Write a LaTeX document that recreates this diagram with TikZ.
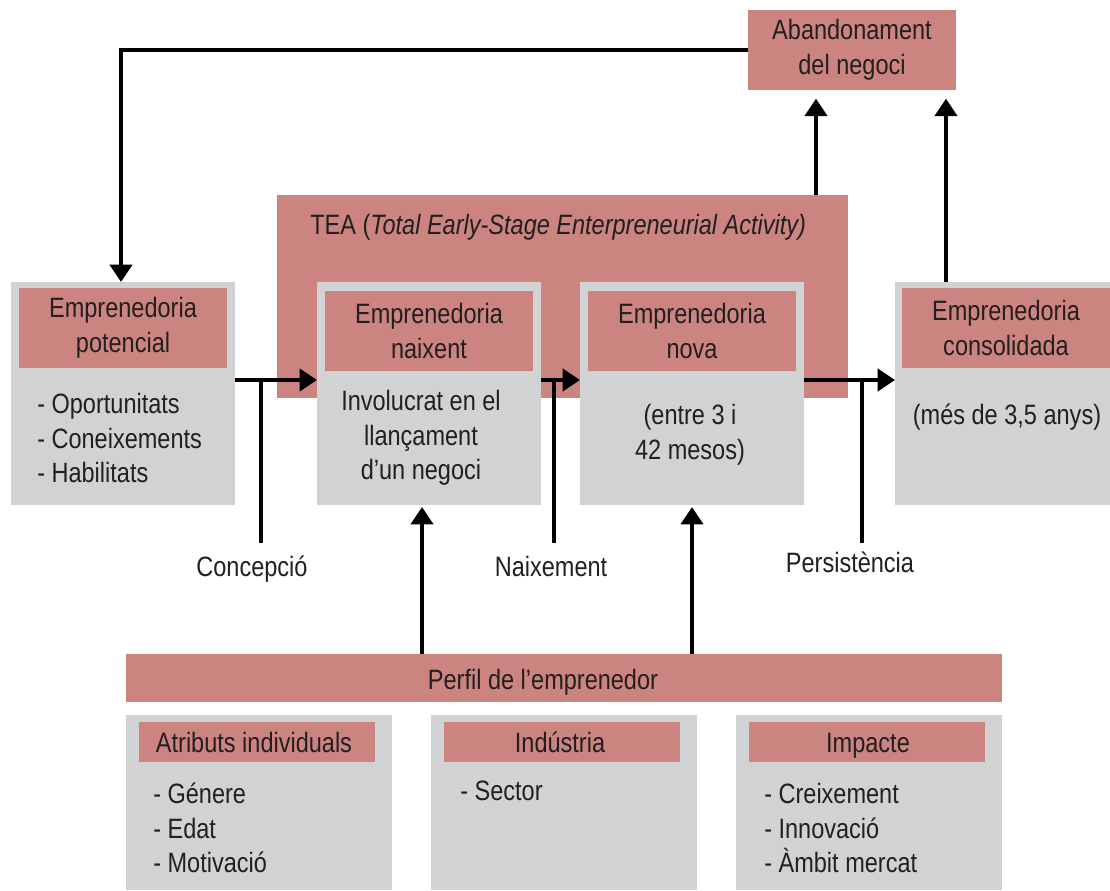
\documentclass[tikz,border=0pt]{standalone}
\usepackage{fontspec}
\setmainfont{Liberation Sans}[FakeStretch=0.84]
\usetikzlibrary{arrows.meta,fit}
\definecolor{rose}{RGB}{204,132,128}
\definecolor{grisbox}{RGB}{209,210,212}
\definecolor{txt}{RGB}{35,31,32}
\tikzset{
  gbox/.style={fill=grisbox, draw=none, inner sep=0pt, outer sep=0pt},
  pbox/.style={fill=rose, draw=none, inner sep=0pt, outer sep=0pt},
  lbl/.style={font=\fontsize{21}{26}\selectfont, text=txt, inner sep=0pt, align=center},
  lst/.style={font=\fontsize{21}{26}\selectfont, text=txt, inner sep=0pt, align=left, anchor=west},
  ln/.style={line width=3pt, draw=black},
  arr/.style={line width=3pt, draw=black, -{Triangle[width=16.5pt,length=13pt]}},
}
\begin{document}
\begin{tikzpicture}[x=0.75pt,y=-0.75pt]
\useasboundingbox (0,0) rectangle (1110,890);

% TEA background
\node[pbox, fit={(277,195)(848,398)}] (tea) {};
\node[lbl, anchor=base west] (teat) at (310,234) {TEA (\textit{Total Early-Stage Enterpreneurial Activity)}};

% Abandonament
\node[pbox, fit={(748,10)(956,90)}] (aband) {};
\node[lbl] (abandt) at (852,50) {Abandonament\\del negoci};

% Emprenedoria potencial
\node[gbox, fit={(11,282)(235,505)}] (pot) {};
\node[pbox, fit={(19,288)(227,368)}] (potH) {};
\node[lbl] (potHt) at (potH.center) {Emprenedoria\\potencial};
\node[lst] (potL) at (37,438) {- Oportunitats\\- Coneixements\\- Habilitats};

% Emprenedoria naixent
\node[gbox, fit={(317,282)(541,505)}] (nai) {};
\node[pbox, fit={(325,291)(533,371)}] (naiH) {};
\node[lbl] (naiHt) at (naiH.center) {Emprenedoria\\naixent};
\node[lbl] (naiB) at (421,438) {Involucrat en el\\llançament\\d’un negoci};

% Emprenedoria nova
\node[gbox, fit={(580,282)(804,505)}] (nova) {};
\node[pbox, fit={(588,291)(796,371)}] (novaH) {};
\node[lbl] (novaHt) at (novaH.center) {Emprenedoria\\nova};
\node[lbl] (novaB) at (690,435) {(entre 3 i\\42 mesos)};

% Emprenedoria consolidada
\node[gbox, fit={(895,282)(1110,505)}] (cons) {};
\node[pbox, fit={(902,288)(1110,368)}] (consH) {};
\node[lbl] (consHt) at (consH.center) {Emprenedoria\\consolidada};
\node[lbl] (consB) at (1007,417) {(més de 3,5 anys)};

% Perfil
\node[pbox, fit={(126,654)(1002,702)}] (perf) {};
\node[lbl, anchor=base] (perft) at (543,689) {Perfil de l’emprenedor};

% Bottom boxes
\node[gbox, fit={(126,715)(392,890)}] (atr) {};
\node[pbox, fit={(139,722)(375,762)}] (atrH) {};
\node[lbl, anchor=base] (atrHt) at (254,752) {Atributs individuals};
\node[lst] (atrL) at (153,828) {- Génere\\- Edat\\- Motivació};

\node[gbox, fit={(431,715)(697,890)}] (ind) {};
\node[pbox, fit={(444,722)(680,762)}] (indH) {};
\node[lbl, anchor=base] (indHt) at (560,752) {Indústria};
\node[lst] (indL) at (460,791) {- Sector};

\node[gbox, fit={(736,715)(1002,890)}] (imp) {};
\node[pbox, fit={(749,722)(985,762)}] (impH) {};
\node[lbl, anchor=base] (impHt) at (868,752) {Impacte};
\node[lst] (impL) at (764,828) {- Creixement\\- Innovació\\- Àmbit mercat};

% Labels
\node[lbl, anchor=base] (lc) at (252,576) {Concepció};
\node[lbl, anchor=base] (ln2) at (551,576) {Naixement};
\node[lbl, anchor=base] (lp) at (850,572) {Persistència};

% Connectors
\coordinate (fbx) at (121,0);
\draw[arr] (aband.west) -| (fbx |- pot.north);

\coordinate (u1) at (816,0);
\coordinate (u2) at (946,0);
\draw[arr, shorten >=6.5pt] (u1 |- tea.north) -- (u1 |- aband.south);
\draw[arr, shorten >=6.5pt] (u2 |- cons.north) -- (u2 |- aband.south);

\coordinate (hy) at (0,380);
\draw[arr] (pot.east |- hy) -- (nai.west |- hy);
\draw[arr] (nai.east |- hy) -- (nova.west |- hy);
\draw[arr] (nova.east |- hy) -- (cons.west |- hy);

\coordinate (b1) at (261,543);
\coordinate (b2) at (554,543);
\coordinate (b3) at (862,543);
\draw[ln] (b1 |- hy) -- (b1);
\draw[ln] (b2 |- hy) -- (b2);
\draw[ln] (b3 |- hy) -- (b3);

\coordinate (p1) at (422,0);
\coordinate (p2) at (692,0);
\draw[arr, shorten >=1.5pt] (p1 |- perf.north) -- (p1 |- nai.south);
\draw[arr, shorten >=1.5pt] (p2 |- perf.north) -- (p2 |- nova.south);
\end{tikzpicture}
\end{document}
